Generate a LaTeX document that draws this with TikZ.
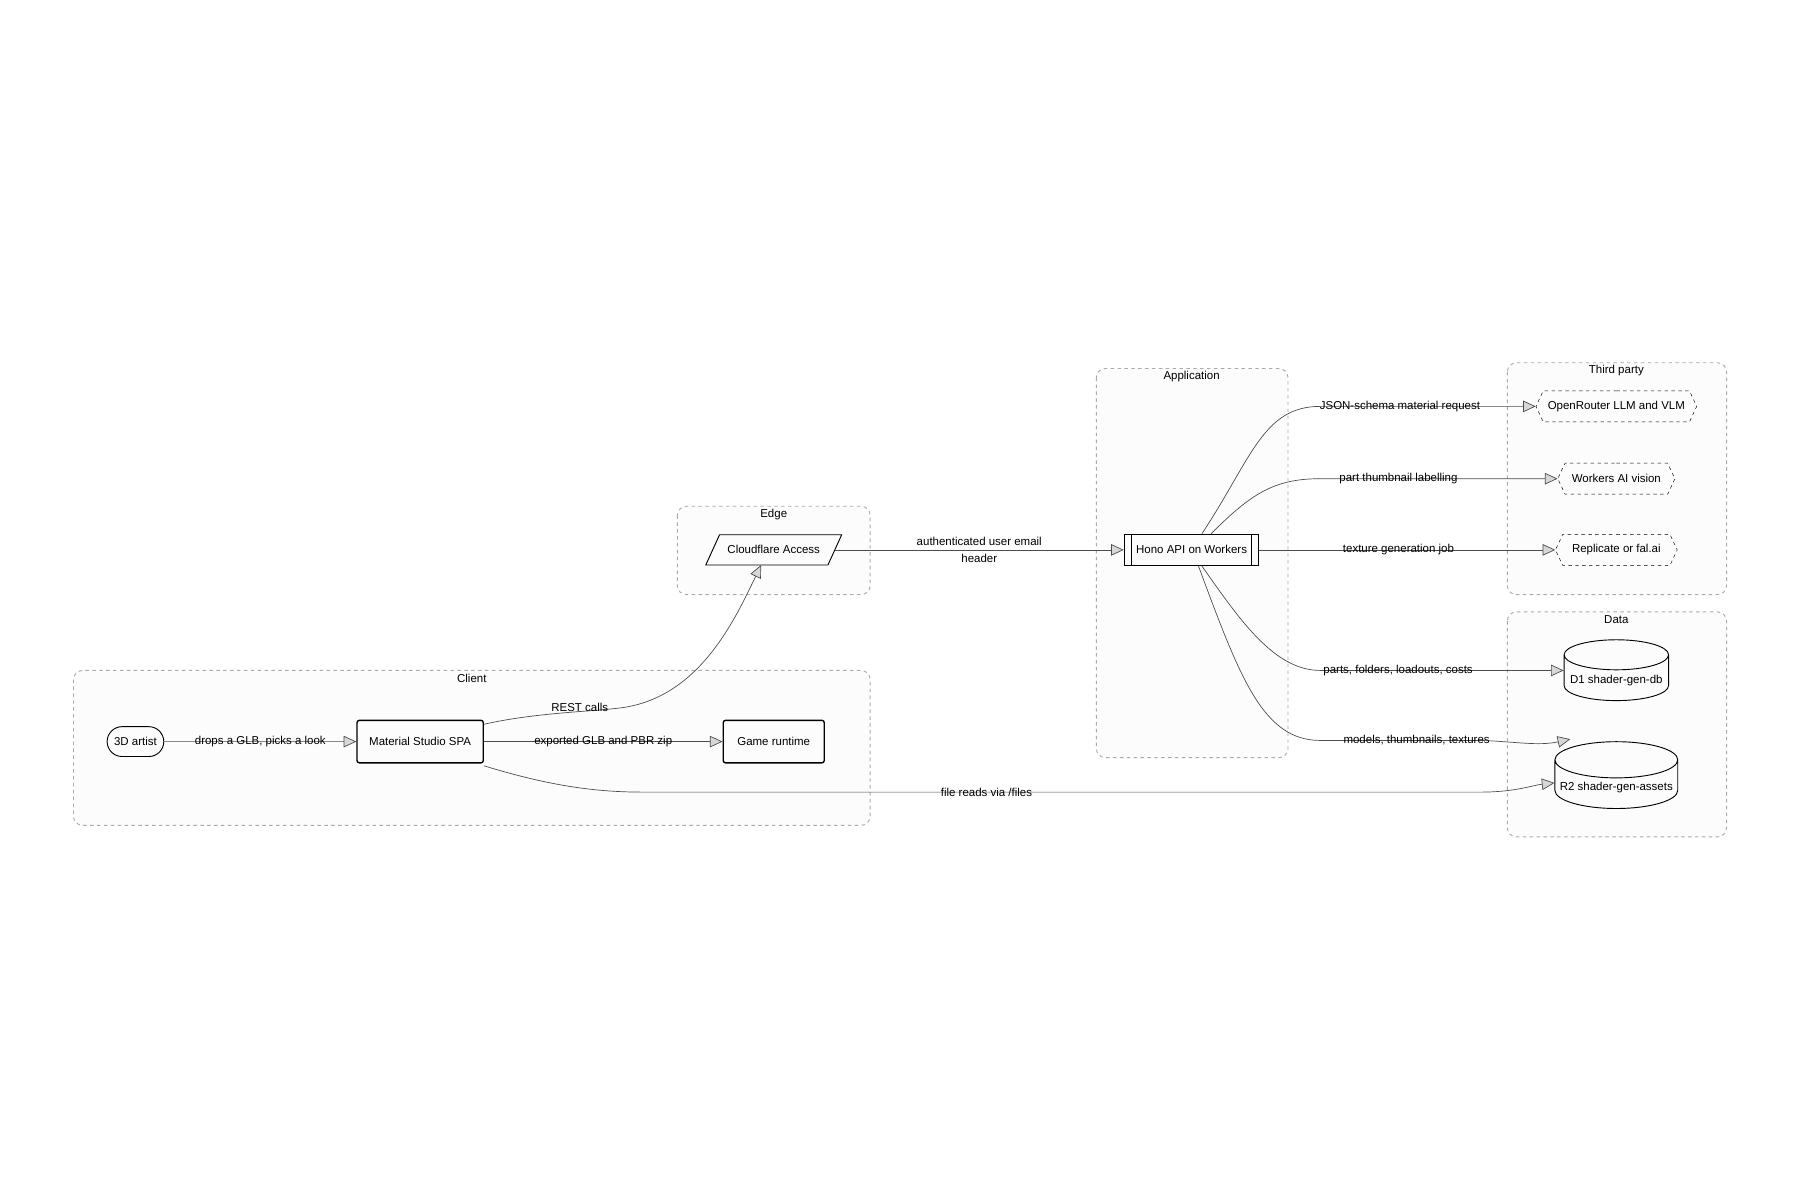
\documentclass[tikz,border=0pt]{standalone}
\usepackage{fontspec}
\setmainfont{Liberation Sans}
\usetikzlibrary{arrows.meta}
\usetikzlibrary{positioning}
\usetikzlibrary{shapes.geometric}
\usetikzlibrary{shapes.symbols}
\usetikzlibrary{shapes.misc}
\definecolor{clusterfill}{RGB}{252, 252, 252}
\definecolor{clusterline}{RGB}{170, 170, 170}
\definecolor{tipfill}{RGB}{215, 215, 215}

\tikzset{
    cluster/.style={draw=clusterline, dashed, fill=clusterfill, rounded corners=8pt, line width=0.8pt},
    ctitle/.style={font=\fontsize{10}{12}\selectfont},
    box/.style={draw, very thick, rounded corners=2pt, minimum height=37pt, font=\fontsize{10}{12}\selectfont},
    ext/.style={draw, dashed, signal, signal to=east and west, signal pointer angle=130, minimum height=27pt, font=\fontsize{10}{12}\selectfont},
    store/.style={draw, thick, cylinder, shape border rotate=90, aspect=0.3, font=\fontsize{10}{12}\selectfont},
    flow/.style={draw=black!70, line width=0.6pt, -{Triangle[length=11pt, width=10pt, open, fill=tipfill]}},
    lbl/.style={font=\fontsize{10}{12}\selectfont, inner sep=1pt}
}

\begin{document}
\begin{tikzpicture}[x=1pt, y=-1pt]
            \useasboundingbox (0,0) rectangle (1568,1045);
            % Clusters
            \draw[cluster] (64,584) rectangle (758,719);
            \node[ctitle] (tclient) at (411,591) {Client};
            \draw[cluster] (590,441) rectangle (758,518);
            \node[ctitle] (tedge) at (674,448) {Edge};
            \draw[cluster] (955,321) rectangle (1122,660);
            \node[ctitle] (tapp) at (1038,328) {Application};
            \draw[cluster] (1313,316) rectangle (1504,518);
            \node[ctitle] (tthird) at (1408,323) {Third party};
            \draw[cluster] (1313,533) rectangle (1504,729);
            \node[ctitle] (tdata) at (1408,540) {Data};
            % Client nodes
            \node[draw, thick, rounded rectangle, minimum width=56pt, minimum height=26pt, font=\fontsize{10}{12}\selectfont] (artist) at (118,646) {3D artist};
            \node[box, minimum width=110pt] (spa) at (366,646) {Material Studio SPA};
            \node[box, minimum width=88pt] (game) at (674,646) {Game runtime};
            % Edge (parallelogram)
            \node[minimum width=106pt, minimum height=26pt, font=\fontsize{10}{12}\selectfont] (access) at (674,479) {Cloudflare Access};
            \draw[thick] ([xshift=6pt]access.north west) -- ([xshift=6pt]access.north east)
                 -- ([xshift=-6pt]access.south east) -- ([xshift=-6pt]access.south west) -- cycle;
            % Application
            \node[draw, very thick, minimum width=117pt, minimum height=27pt, font=\fontsize{10}{12}\selectfont] (hono) at (1038,479) {Hono API on Workers};
            \draw[very thick] ([xshift=7pt]hono.north west) -- ([xshift=7pt]hono.south west);
            \draw[very thick] ([xshift=-7pt]hono.north east) -- ([xshift=-7pt]hono.south east);
            % Third party
            \node[ext, minimum width=140pt] (openrouter) at (1408,354) {OpenRouter LLM and VLM};
            \node[ext, minimum width=102pt] (workersai) at (1408,417) {Workers AI vision};
            \node[ext, minimum width=106pt] (replicate) at (1408,479) {Replicate or fal.ai};
            % Data
            \node[store, minimum width=91pt, minimum height=53pt] (d1) at (1408,593) {D1 shader-gen-db};
            \node[store, minimum width=107pt, minimum height=55pt] (r2) at (1408,686) {R2 shader-gen-assets};
            % Bend points
            \coordinate (b1) at (1150,354);
            \coordinate (b2) at (1150,417);
            \coordinate (b4) at (1150,584);
            \coordinate (b5) at (1150,645);
            \coordinate (b6) at (560,690);
            \coordinate (b7) at (1290,690);
            % Connectors
            \draw[flow] (artist) -- node[lbl] {drops a GLB, picks a look} (spa);
            \draw[flow] (spa) -- node[lbl] {exported GLB and PBR zip} (game);
            \draw[flow] ([yshift=-4pt]spa.north east) .. controls (470,620) and (520,620) .. (545,616) .. controls (610,605) and (640,540) .. ([xshift=-11pt]access.south);
            \node[lbl] (lrest) at (505,616) {REST calls};
            \draw[flow] (access) -- node[lbl, align=center] {authenticated user email\\[3pt]header} (hono);
            \draw[flow] ([xshift=9pt]hono.north) .. controls (1090,400) and (1100,354) .. (b1) -- node[lbl, pos=0.37] {JSON-schema material request} (openrouter.west);
            \draw[flow] ([xshift=17pt]hono.north) .. controls (1090,430) and (1110,417) .. (b2) -- node[lbl, pos=0.33] {part thumbnail labelling} (workersai.west);
            \draw[flow] (hono) -- node[lbl, pos=0.47] {texture generation job} (replicate.west);
            \draw[flow] ([xshift=9pt]hono.south) .. controls (1080,540) and (1110,584) .. (b4) -- node[lbl, pos=0.32] {parts, folders, loadouts, costs} (d1.west |- b4);
            \draw[flow] ([xshift=6pt]hono.south) .. controls (1080,590) and (1100,645) .. (b5) -- node[lbl, pos=0.6] {models, thumbnails, textures} (1290,645) .. controls (1320,646) and (1340,650) .. ([xshift=-4pt,yshift=6pt]r2.north west);
            \draw[flow] ([yshift=-2pt]spa.south east) .. controls (480,685) and (520,690) .. (b6) -- node[lbl, pos=0.41] {file reads via /files} (b7) .. controls (1320,690) and (1335,684) .. ([yshift=4pt]r2.west);
        \end{tikzpicture}
\end{document}
